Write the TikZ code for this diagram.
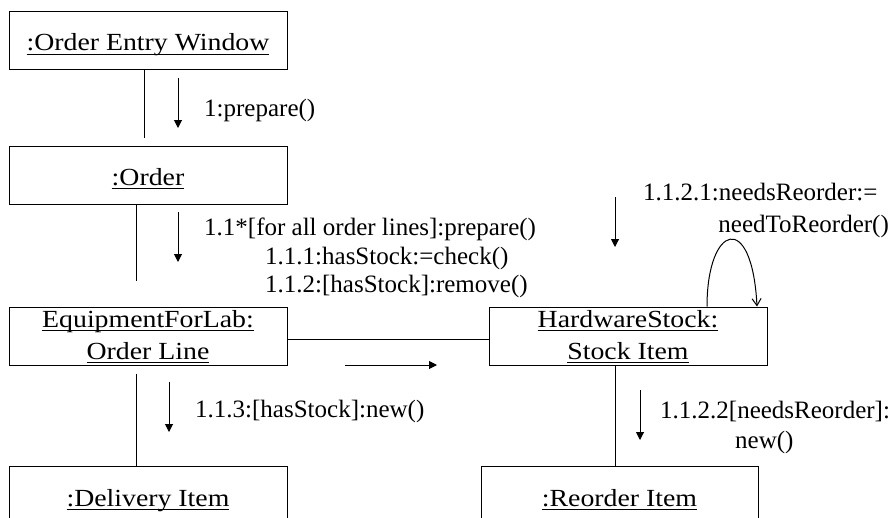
\documentclass[tikz,border=0pt]{standalone}
\usepackage{fontspec}
\setmainfont{Liberation Serif}
\newfontfamily\objfont[FakeStretch=1.13]{Liberation Serif}
\usetikzlibrary{arrows.meta,calc}

% underlined object name (UML instance style)
\newsavebox\ulbox
\newcommand\objname[1]{\sbox\ulbox{#1}\rlap{\rule[-4pt]{\wd\ulbox}{0.9pt}}\usebox\ulbox}

\tikzset{
  obj/.style={draw, line width=1pt, minimum width=278pt, minimum height=58pt,
    inner sep=0pt, align=center, font=\objfont\fontsize{24.6}{32}\selectfont},
  oneline/.style={text height=20pt, text depth=0pt},
  twoline/.style={text height=52pt, text depth=6pt},
  msg/.style={font=\fontsize{25}{29}\selectfont, inner sep=0pt},
  link/.style={line width=1pt},
  msgarrow/.style={line width=1pt, -{Triangle[length=8pt,width=8pt]}},
}

\begin{document}
\begin{tikzpicture}[x=1pt, y=-1pt]
\clip (0,0) rectangle (890,517);

% objects
\node[obj, oneline] (oew) at (148,40.5) {\objname{:Order Entry Window}};
\node[obj, oneline] (ord) at (148,175) {\objname{:Order}};
\node[obj, twoline] (eol) at (148,336) {\objname{EquipmentForLab:}\\\objname{Order Line}};
\node[obj, oneline, minimum height=60pt] (dli) at (148,496) {\objname{:Delivery Item}};
\node[obj, twoline] (hsi) at (628,336) {\objname{HardwareStock:}\\\objname{Stock Item}};
\node[obj, oneline, minimum width=277pt, minimum height=60pt] (rei) at (619.5,496) {\objname{:Reorder Item}};

% links
\draw[link] ([xshift=-4pt]oew.south) -- ([xshift=-4pt,yshift=8pt]ord.north);
\draw[link] ([xshift=-12pt]ord.south) -- ([xshift=-12pt,yshift=26pt]eol.north);
\draw[link] ([xshift=-12pt,yshift=-8pt]eol.south) -- ([xshift=-12pt]dli.north);
\draw[link] ([yshift=-3pt]eol.east) -- ([yshift=-3pt]hsi.west);
\draw[link] ([xshift=-13pt]hsi.south) -- ([xshift=-13pt]hsi.south |- rei.north);
\draw[link, -{Straight Barb[length=7pt,width=9pt]}]
  ([xshift=79pt]hsi.north) .. controls +(0,-82) and +(-5,-97) .. ([xshift=129pt]hsi.north);

% message arrows
\draw[msgarrow] (178,78) -- (178,128);
\draw[msgarrow] (178,212) -- (178,262);
\draw[msgarrow] (345,365) -- (437,365);
\draw[msgarrow] (169,382) -- (169,432);
\draw[msgarrow] (615,197) -- (615,247);
\draw[msgarrow] (640,390) -- (640,440);

% message labels
\node[msg, anchor=base west] (l1) at (204,116) {1:prepare()};
\node[msg, anchor=base west] (l11) at (204,235) {1.1*[for all order lines]:prepare()};
\node[msg, anchor=base west] (l111) at (265,264) {1.1.1:hasStock:=check()};
\node[msg, anchor=base west] (l112) at (265,292) {1.1.2:[hasStock]:remove()};
\node[msg, anchor=base west] (l113) at (195,417) {1.1.3:[hasStock]:new()};
\node[msg, anchor=base west] (l1121a) at (643,200) {1.1.2.1:needsReorder:=};
\node[msg, anchor=base east] (l1121b) at (889,232) {needToReorder()};
\node[msg, anchor=base west] (l1122a) at (660,418) {1.1.2.2[needsReorder]:};
\node[msg, anchor=base west] (l1122b) at (735,448) {new()};
\end{tikzpicture}
\end{document}
